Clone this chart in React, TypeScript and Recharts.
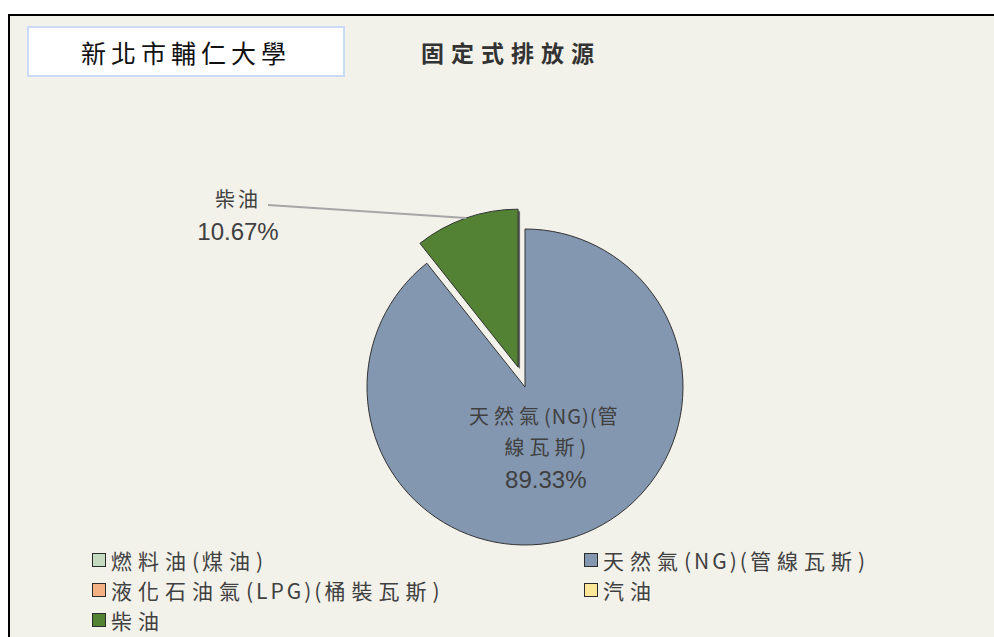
import React from 'react'
import { PieChart, Pie, Cell, Legend, Sector } from 'recharts'

const fuelNames = ['燃料油(煤油)', '天然氣(NG)(管線瓦斯)', '液化石油氣(LPG)(桶裝瓦斯)', '汽油', '柴油']
const fuelShares = [0, 89.33, 0, 0, 10.67]
const fuelColors = ['#c5dcc2', '#8497b0', '#f4b183', '#ffe699', '#548235']

const data = fuelNames.map((name, i) => ({ name, value: fuelShares[i] }))

const EXPLODED = '柴油'
const EXPLODE_OFFSET = 21
const RAD = Math.PI / 180
const CJK = '"Noto Sans CJK TC", "Noto Sans CJK SC", sans-serif'
const NUM = '"Liberation Sans", Arial, sans-serif'
const TEXT = '#404040'

// split a label into CJK / non-CJK runs so the CJK glyphs can be spaced out
const runs = (s: string) => s.match(/[\u3000-\u9fff]+|[^\u3000-\u9fff]+/g) || []
const isCjk = (s: string) => /[\u3000-\u9fff]/.test(s)

const explodeShift = (midAngle: number) => ({
  dx: EXPLODE_OFFSET * Math.cos(-midAngle * RAD),
  dy: EXPLODE_OFFSET * Math.sin(-midAngle * RAD),
})

const renderSector = (props: any) => {
  const { cx, cy, midAngle, payload } = props
  if (payload && payload.name === EXPLODED) {
    const { dx, dy } = explodeShift(midAngle)
    return (
      <g>
        <Sector {...props} cx={cx + dx + 2} cy={cy + dy + 2} fill="#6b6b6b" stroke="none" />
        <Sector {...props} cx={cx + dx} cy={cy + dy} stroke="#333" strokeWidth={1} />
      </g>
    )
  }
  return <Sector {...props} stroke="#333" strokeWidth={1} />
}

const splitName = (name: string, maxChars: number) => {
  const lines: string[] = []
  for (let i = 0; i < name.length; i += maxChars) lines.push(name.slice(i, i + maxChars))
  return lines
}

const SvgRuns = ({ text, spacing }: { text: string; spacing: number }) => (
  <>
    {runs(text).map((r, i) => (
      <tspan key={i} letterSpacing={isCjk(r) ? spacing : 1}>
        {r}
      </tspan>
    ))}
  </>
)

const renderLabel = (props: any) => {
  const { cx, cy, midAngle, outerRadius, percent, name, value } = props
  if (!value) return null
  const pct = (percent * 100).toFixed(2) + '%'
  if (name === EXPLODED) {
    const { dx, dy } = explodeShift(midAngle)
    const ex = cx + dx + outerRadius * Math.cos(-midAngle * RAD)
    const ey = cy + dy + outerRadius * Math.sin(-midAngle * RAD)
    const lx = cx - 287
    return (
      <g>
        <line x1={lx + 30} y1={cy - 182} x2={ex} y2={ey} stroke="#a6a6a6" strokeWidth={2} />
        <text x={lx} y={cy - 180} textAnchor="middle" fontFamily={CJK} fontSize={20} fill={TEXT}>
          <SvgRuns text={name} spacing={3} />
        </text>
        <text x={lx} y={cy - 147} textAnchor="middle" fontFamily={NUM} fontSize={24} fill={TEXT}>
          {pct}
        </text>
      </g>
    )
  }
  const r = outerRadius * 0.4
  const x = cx + r * Math.cos(-midAngle * RAD)
  const y = cy + r * Math.sin(-midAngle * RAD)
  const lines = splitName(name, 9)
  return (
    <g>
      {lines.map((line, i) => (
        <text key={i} x={x} y={y - 23 + i * 31} textAnchor="middle" fontFamily={CJK} fontSize={20} fill={TEXT}>
          <SvgRuns text={line} spacing={5} />
        </text>
      ))}
      <text x={x} y={y - 23 + lines.length * 31 + 2} textAnchor="middle" fontFamily={NUM} fontSize={24} fill={TEXT}>
        {pct}
      </text>
    </g>
  )
}

const renderLegend = (props: any) => {
  const payload = [...(props.payload || [])].sort(
    (a: any, b: any) => fuelNames.indexOf(a.value) - fuelNames.indexOf(b.value)
  )
  return (
    <div style={{ display: 'grid', gridTemplateColumns: '492px 400px', rowGap: 0 }}>
      {payload.map((entry: any, i: number) => (
        <div key={i} style={{ display: 'flex', alignItems: 'center', height: 30 }}>
          <span
            style={{
              width: 12,
              height: 12,
              background: entry.color,
              border: '1.5px solid #2b2b2b',
              marginRight: 5,
              flex: 'none',
            }}
          />
          <span style={{ fontFamily: CJK, fontSize: 21, color: TEXT, lineHeight: '30px', whiteSpace: 'nowrap' }}>
            {runs(entry.value).map((r, j) => (
              <span key={j} style={{ letterSpacing: isCjk(r) ? 6 : 3 }}>
                {r}
              </span>
            ))}
          </span>
        </div>
      ))}
    </div>
  )
}

export default function App() {
  return (
    <div
      style={{
        position: 'fixed',
        left: 8,
        top: 14,
        width: 984,
        height: 621,
        borderLeft: '2px solid #000',
        borderTop: '2px solid #000',
        background: '#f2f1ea',
        overflow: 'hidden',
      }}
    >
      <div
        style={{
          position: 'absolute',
          left: 17,
          top: 10,
          width: 314,
          height: 47,
          background: '#fff',
          border: '2px solid #c9dbf7',
          display: 'flex',
          alignItems: 'center',
          justifyContent: 'center',
          fontFamily: CJK,
          fontSize: 25,
          letterSpacing: 5,
          color: '#111',
        }}
      >
        新北市輔仁大學
      </div>
      <div
        style={{
          position: 'absolute',
          left: 401,
          top: 19,
          width: 200,
          textAlign: 'center',
          fontFamily: CJK,
          fontSize: 23,
          fontWeight: 700,
          letterSpacing: 7,
          color: '#333',
        }}
      >
        固定式排放源
      </div>
      <PieChart width={984} height={621} style={{ position: 'absolute', left: 0, top: 0 }}>
        <Pie
          data={data}
          dataKey="value"
          nameKey="name"
          cx={510}
          cy={366}
          outerRadius={158}
          startAngle={90}
          endAngle={-270}
          isAnimationActive={false}
          labelLine={false}
          label={renderLabel}
          shape={renderSector}
          inactiveShape={renderSector}
        >
          {data.map((d, i) => (
            <Cell key={d.name} fill={fuelColors[i]} />
          ))}
        </Pie>
        <Legend
          content={renderLegend}
          wrapperStyle={{ position: 'absolute', left: 82, top: 529, width: 900 }}
        />
      </PieChart>
    </div>
  )
}
